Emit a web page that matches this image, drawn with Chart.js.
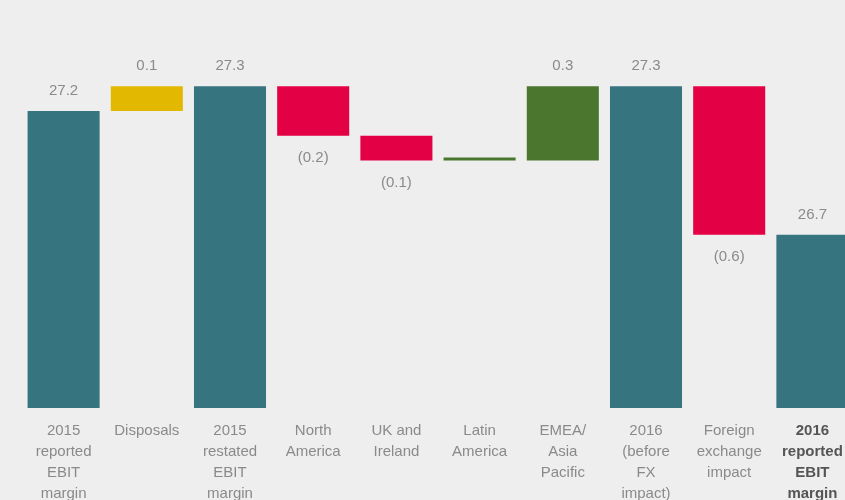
<!DOCTYPE html>
<html>
<head>
<meta charset="utf-8">
<script src="https://cdn.jsdelivr.net/npm/chart.js@4/dist/chart.umd.min.js"></script>
<style>
  html, body { margin: 0; padding: 0; background: #eeeeee; overflow: hidden; }
  #wrap { width: 854px; height: 520px; }
</style>
</head>
<body>
<div id="wrap"><canvas id="ebitChart" width="854" height="520"></canvas></div>
<script>
const categories = [
  ['2015', 'reported', 'EBIT', 'margin'],
  ['Disposals'],
  ['2015', 'restated', 'EBIT', 'margin'],
  ['North', 'America'],
  ['UK and', 'Ireland'],
  ['Latin', 'America'],
  ['EMEA/', 'Asia', 'Pacific'],
  ['2016', '(before', 'FX', 'impact)'],
  ['Foreign', 'exchange', 'impact'],
  ['2016', 'reported', 'EBIT', 'margin'],
];
// totals are absolute margins, the rest are movements
const values = [27.2, 0.1, 27.3, -0.2, -0.1, 0.0, 0.3, 27.3, -0.6, 26.7];
const isTotal = [true, false, true, false, false, false, false, true, false, true];
const barColours = ['#36757f', '#e2b800', '#36757f', '#e40044', '#e40044', '#4a772d', '#4a772d', '#36757f', '#e40044', '#36757f'];
const yMin = 26;
const yMax = 27.6;

// build [start, end] ranges for the floating bars
const ranges = [];
let running = 0;
values.forEach((v, i) => {
  if (isTotal[i]) {
    running = v;
    ranges.push([yMin, v]);
  } else {
    const start = running;
    running = Math.round((running + v) * 10) / 10;
    ranges.push([start, running]);
  }
});

function formatValue(v, total) {
  if (total) return v.toFixed(1);
  if (v === 0) return '';
  return v < 0 ? `(${Math.abs(v).toFixed(1)})` : v.toFixed(1);
}

const valueLabels = {
  id: 'valueLabels',
  afterDatasetsDraw(chart) {
    const { ctx } = chart;
    const meta = chart.getDatasetMeta(0);
    ctx.save();
    ctx.font = '15px "Liberation Sans", Arial, sans-serif';
    ctx.fillStyle = '#8a8a8a';
    ctx.textAlign = 'center';
    ctx.textBaseline = 'middle';
    meta.data.forEach((bar, i) => {
      const text = formatValue(values[i], isTotal[i]);
      if (!text) return;
      const top = Math.min(bar.y, bar.base);
      const bottom = Math.max(bar.y, bar.base);
      if (!isTotal[i] && values[i] < 0) {
        ctx.fillText(text, bar.x, bottom + 22);
      } else {
        ctx.fillText(text, bar.x, top - 20);
      }
    });
    ctx.restore();
  },
};

new Chart(document.getElementById('ebitChart').getContext('2d'), {
  type: 'bar',
  data: {
    labels: categories,
    datasets: [
      {
        data: ranges,
        backgroundColor: barColours,
        borderWidth: 0,
        barPercentage: 0.866,
        categoryPercentage: 1,
        minBarLength: 3,
      },
    ],
  },
  options: {
    responsive: false,
    animation: false,
    layout: {
      padding: { top: 12, left: 22, right: 0, bottom: 0 },
    },
    plugins: {
      legend: { display: false },
      tooltip: { enabled: false },
    },
    scales: {
      y: {
        display: false,
        min: yMin,
        max: yMax,
      },
      x: {
        grid: { display: false },
        border: { display: false },
        afterFit(scale) {
          scale.height = 112;
        },
        ticks: {
          padding: 4,
          maxRotation: 0,
          autoSkip: false,
          color: (c) => (c.index === 9 ? '#555555' : '#8a8a8a'),
          font: (c) => ({
            family: '"Liberation Sans", Arial, sans-serif',
            size: 15,
            lineHeight: 1.4,
            weight: c.index === 9 ? 'bold' : 'normal',
          }),
        },
      },
    },
  },
  plugins: [valueLabels],
});
</script>
</body>
</html>
